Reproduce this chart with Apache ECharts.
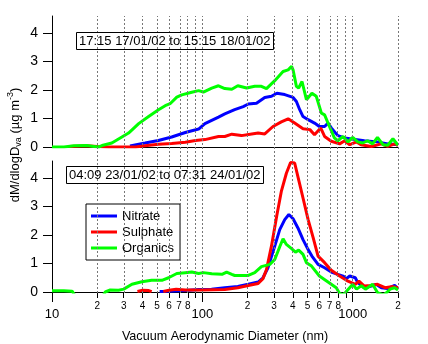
<!DOCTYPE html>
<html><head><meta charset="utf-8">
<script src="https://cdn.jsdelivr.net/npm/echarts@6/dist/echarts.min.js"></script>
<style>html,body{margin:0;padding:0;background:#fff}#c{width:428px;height:344px}</style>
</head><body><div id="c"></div>
<script>
// ---- data: [diameter (nm), dM/dlogDva (µg m-3)] ----
var topOrganics = [[10,0],[12,0],[14,0.04],[17,0.05],[19,0.02],[20.4,0],[21.5,0.05],[25,0.14],[27.7,0.28],[32.3,0.49],[37.7,0.82],[43.9,1.07],[51.1,1.31],[56.6,1.45],[61,1.52],[67.6,1.75],[73,1.83],[85,1.92],[94.4,1.98],[101.5,1.93],[115.5,2.07],[128,2.15],[141,2.05],[157,2.03],[172,2.15],[197,2.07],[223,2.13],[247,2.13],[267,2.05],[303,2.33],[344,2.65],[372,2.71],[392,2.83],[401,2.71],[422,2.13],[437,2.07],[460,2.3],[492,1.66],[535,1.89],[572,1.78],[619,1.19],[650,1.13],[700,0.72],[755,0.32],[796,0.22],[862,0.37],[930,0.18],[1000,0.34],[1080,0.18],[1165,0.14],[1255,0.22],[1355,0.11],[1460,0.34],[1590,0.08],[1710,0.06],[1850,0.29],[2000,0.06]];
var topNitrate = [[33,0.04],[34,0.08],[41.6,0.14],[51,0.23],[62.5,0.35],[77,0.51],[94.4,0.63],[104,0.82],[128,1.05],[141,1.16],[164,1.31],[187,1.42],[202,1.51],[229,1.54],[260,1.74],[288,1.78],[313,1.89],[353,1.84],[401,1.74],[422,1.6],[444,1.31],[467,1.07],[505,0.96],[557,0.84],[600,0.72],[650,0.72],[685,0.84],[720,0.67],[796,0.4],[884,0.32],[982,0.28],[1195,0.22],[1460,0.18],[1710,0.11],[2000,0.08]];
var topSulphate = [[13,0.02],[14.5,0.03],[17,0.04],[20,0.02],[24,0],[30,0],[36,0],[41.6,0.04],[51,0.1],[62.5,0.12],[77,0.17],[90,0.23],[104,0.26],[128,0.37],[141,0.37],[157,0.45],[182,0.4],[213,0.46],[235,0.49],[260,0.46],[295,0.72],[335,0.88],[372,0.99],[411,0.84],[467,0.64],[519,0.61],[557,0.43],[612,0.67],[650,0.37],[720,0.2],[818,0.11],[884,0.22],[955,0.08],[1060,0.18],[1135,0.08],[1330,0.02],[1550,0.11],[1710,0.02],[1900,0.11],[2000,0.06]];
var botOrganics = [[10,0.04],[12,0.04],[13.6,0.03],[14.5,-0.2],[21.5,-0.2],[22.6,0],[24.4,0.07],[27.7,0.06],[30,0.1],[34,0.27],[39.6,0.36],[46,0.41],[53.8,0.41],[59.6,0.5],[67.6,0.65],[77,0.68],[85,0.7],[94.4,0.65],[101.5,0.68],[115.5,0.64],[135,0.62],[145,0.7],[157,0.62],[164,0.58],[202,0.58],[223,0.68],[247,0.89],[281,0.97],[303,1.14],[327,1.59],[344,1.87],[362,1.67],[392,1.52],[416,1.4],[437,1.47],[467,1.32],[492,1.03],[532,0.91],[600,0.56],[685,0.35],[777,0.15],[818,-0.05],[860,-0.1],[900,0],[1000,0.27],[1060,0.1],[1140,0.22],[1215,0.1],[1355,0.27],[1460,-0.02],[1600,-0.1],[1700,0],[1770,0.1],[1900,0.15],[2000,0.07]];
var botNitrate = [[52,0.02],[60,0.03],[77,0.05],[95,0.09],[115,0.1],[141,0.15],[172,0.19],[202,0.27],[235,0.35],[253,0.5],[273,0.85],[303,1.61],[327,2.19],[353,2.54],[376,2.72],[401,2.57],[432,2.25],[467,1.84],[505,1.49],[535,1.26],[588,0.97],[650,0.85],[720,0.7],[796,0.62],[862,0.56],[907,0.47],[955,0.56],[1040,0.5],[1080,0.33],[1195,0.15],[1330,0.21],[1430,0.27],[1550,0.15],[1710,0.12],[1900,0.23],[2000,0.12]];
var botSulphate = [[37,0.02],[40,0.06],[44,0.05],[46,0.01],[48,null],[55,0.02],[60,0.06],[67,0.1],[77,0.07],[100,0.07],[141,0.09],[172,0.15],[202,0.23],[235,0.3],[253,0.47],[267,0.79],[288,1.61],[312,2.66],[335,3.53],[362,4.17],[386,4.55],[411,4.53],[437,3.94],[467,3.3],[505,2.54],[546,1.9],[588,1.26],[650,1.03],[720,0.76],[818,0.56],[930,0.38],[1040,0.27],[1100,0.38],[1195,0.21],[1330,0.23],[1460,0.27],[1640,0.15],[1850,0.19],[2000,0.15]];

var seriesNames = ['Nitrate','Sulphate','Organics'];
var seriesColors = ['#0000ff','#ff0000','#00ff00'];
var yTicks = [0,1,2,3,4];
var majorTicks = [10,100,1000];
var minorTicks = [20,30,40,50,60,70,80,90,200,300,400,500,600,700,800,900,2000];
var minorLabels = [20,30,40,50,60,70,80,200,300,400,500,600,700,800,2000];
var gridDiameters = [20,30,40,50,60,70,80,90,100,200,300,400,500,600,700,800,900,1000,2000];
var titleTop = '17:15 17/01/02 to 15:15 18/01/02';
var titleBottom = '04:09 23/01/02 to 07:31 24/01/02';
var xName = 'Vacuum Aerodynamic Diameter (nm)';

var FONT = 'Liberation Sans, Arial, sans-serif';
var XMIN = 1, XMAX = Math.log10(2000);
function lg(arr){ return arr.map(function(p){ return [Math.log10(p[0]), p[1]]; }); }
function L(v){ return Math.log10(v); }

var chart = echarts.init(document.getElementById('c'), null, {renderer:'canvas'});

function yAxisFor(gi){
  return {type:'value', gridIndex:gi, min:0, max:4.6,
    axisLine:{show:true, lineStyle:{color:'#000', width:1}},
    axisTick:{show:true, length:9, inside:false, customValues:yTicks, lineStyle:{color:'#000'}},
    axisLabel:{customValues:yTicks, margin:14, fontSize:14, color:'#000', fontFamily:FONT},
    splitLine:{show:false}};
}

function line(name, data, color, xi, yi){
  return {name:name, type:'line', xAxisIndex:xi, yAxisIndex:yi, data:lg(data), symbol:'none', showSymbol:false,
    lineStyle:{color:color, width:3}, itemStyle:{color:color}, z:3, connectNulls:false, animation:false, clip:true};
}

var option = {
  animation:false,
  backgroundColor:'#fff',
  textStyle:{fontFamily:FONT},
  title:[
    {text:titleTop, left:76, top:32, padding:[3,3,2,3], borderColor:'#000', borderWidth:1,
     textStyle:{fontSize:13, fontWeight:'normal', color:'#000', fontFamily:FONT}},
    {text:titleBottom, left:66, top:166, padding:[3,3,2,3], borderColor:'#000', borderWidth:1,
     textStyle:{fontSize:13, fontWeight:'normal', color:'#000', fontFamily:FONT}}
  ],
  legend:{data:seriesNames, orient:'vertical', left:86, top:204, padding:[5,6,5,5], itemGap:2,
    icon:'rect', itemWidth:26, itemHeight:3, borderColor:'#000', borderWidth:1, backgroundColor:'#fff',
    textStyle:{fontSize:13, color:'#000', fontFamily:FONT, lineHeight:14}, selectedMode:false},
  grid:[
    {left:52, width:346, top:16, height:131},
    {left:52, width:346, top:161, height:132},
    {left:52, width:346, top:16, height:277}
  ],
  xAxis:[
    {type:'value', gridIndex:0, min:XMIN, max:XMAX, axisLine:{show:true, onZero:false, lineStyle:{color:'#000'}},
     axisTick:{show:false}, axisLabel:{show:false}, splitLine:{show:false}},
    {type:'value', gridIndex:1, min:XMIN, max:XMAX, position:'bottom',
     axisLine:{show:true, onZero:false, lineStyle:{color:'#000'}},
     axisTick:{show:true, length:10, customValues:majorTicks.map(L), lineStyle:{color:'#000'}},
     axisLabel:{customValues:majorTicks.map(L), margin:16, fontSize:13, color:'#000', fontFamily:FONT,
       formatter:function(v){ return String(Math.round(Math.pow(10,v))); }},
     splitLine:{show:false},
     name:xName, nameLocation:'middle', nameGap:38, nameTextStyle:{fontSize:12.6, color:'#000', fontFamily:FONT}},
    {type:'value', gridIndex:1, min:XMIN, max:XMAX, position:'bottom',
     axisLine:{show:false, onZero:false},
     axisTick:{show:true, length:6, customValues:minorTicks.map(L), lineStyle:{color:'#000'}},
     axisLabel:{customValues:minorLabels.map(L), margin:9, fontSize:10, color:'#000', fontFamily:FONT,
       formatter:function(v){ var d=Math.round(Math.pow(10,v)); return String(d).charAt(0); }},
     splitLine:{show:false}},
    {type:'value', gridIndex:2, min:XMIN, max:XMAX, show:false}
  ],
  yAxis:[yAxisFor(0), yAxisFor(1), {type:'value', gridIndex:2, min:0, max:1, show:false}],
  graphic:[{type:'text', x:15, y:145, rotation:Math.PI/2,
    style:{text:'dM/dlogD{s|va} (µg m{p|-3})', fill:'#000', font:'13px '+FONT, align:'center', verticalAlign:'middle',
      rich:{s:{fontSize:9, padding:[7,0,0,0], fontFamily:FONT}, p:{fontSize:9, padding:[0,0,8,0], fontFamily:FONT}}}}],
  series:[
    {type:'line', xAxisIndex:3, yAxisIndex:2, data:[], silent:true, z:1,
     markLine:{silent:true, symbol:['none','none'], label:{show:false}, animation:false,
       lineStyle:{color:'#777', type:[2,2], width:1},
       data:gridDiameters.map(function(d){ return {xAxis:L(d)}; })}},
    line('Nitrate', topNitrate, seriesColors[0], 0, 0),
    line('Sulphate', topSulphate, seriesColors[1], 0, 0),
    line('Organics', topOrganics, seriesColors[2], 0, 0),
    line('Nitrate', botNitrate, seriesColors[0], 1, 1),
    line('Sulphate', botSulphate, seriesColors[1], 1, 1),
    line('Organics', botOrganics, seriesColors[2], 1, 1)
  ]
};
chart.setOption(option);
</script></body></html>
